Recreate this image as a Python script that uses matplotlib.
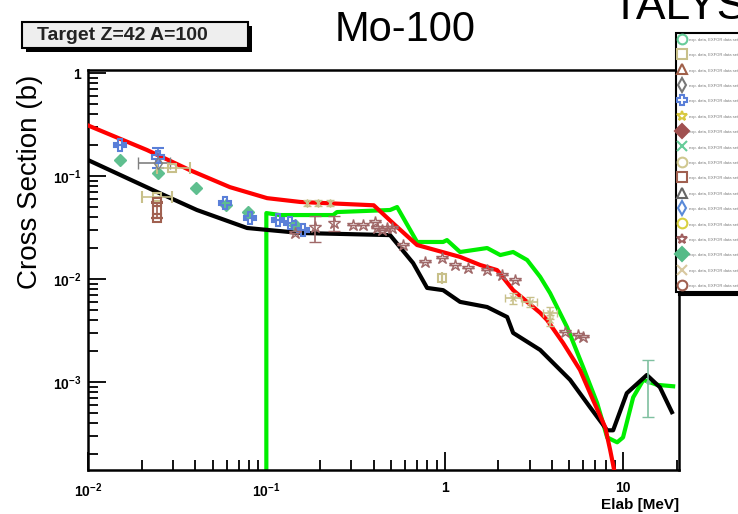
import numpy as np
import matplotlib.pyplot as plt
from matplotlib import patheffects as pe
from matplotlib.patches import Rectangle
from matplotlib.lines import Line2D

plt.rcParams['font.family'] = ['Liberation Sans', 'DejaVu Sans']
plt.rcParams['mathtext.fontset'] = 'custom'
plt.rcParams['mathtext.rm'] = 'Liberation Sans:bold'
plt.rcParams['mathtext.bf'] = 'Liberation Sans:bold'
plt.rcParams['mathtext.default'] = 'rm'

# evaluated curves (E in MeV, sigma in b)
red_x = [0.01, 0.0214, 0.0373, 0.0625, 0.101, 0.155, 0.40, 0.527, 0.70, 1.22, 1.58, 1.97, 2.42,
         3.43, 3.75, 4.61, 5.74, 6.79, 7.94, 8.47, 9.15]
red_y = [0.31, 0.179, 0.114, 0.078, 0.061, 0.056, 0.052, 0.0334, 0.0214, 0.0164, 0.0137, 0.0122,
         0.0078, 0.0047, 0.0040, 0.0024, 0.00131, 0.00067, 0.000365, 0.000219, 0.000112]

black_x = [0.01, 0.0244, 0.0408, 0.078, 0.101, 0.155, 0.494, 0.665, 0.797, 0.98, 1.22, 1.73, 2.24,
           2.42, 3.43, 5.05, 6.53, 8.15, 8.8, 10.5, 13.6, 16.1, 18.8]
black_y = [0.143, 0.070, 0.0468, 0.0313, 0.030, 0.028, 0.0267, 0.0143, 0.0082, 0.0078, 0.0060,
           0.00535, 0.00428, 0.0030, 0.00205, 0.00105, 0.00057, 0.00034, 0.00034, 0.00078,
           0.00117, 0.00089, 0.00051]

green_x = [0.1, 0.1, 0.119, 0.237, 0.249, 0.494, 0.541, 0.70, 0.98, 1.03, 1.22, 1.73, 2.05, 2.42,
           2.90, 3.43, 3.90, 4.86, 5.97, 7.16, 8.15, 9.27, 10.0, 11.4, 13.0, 15.5, 19.1]
green_y = [1e-6, 0.0437, 0.0418, 0.0418, 0.0447, 0.0468, 0.050, 0.0229, 0.0229, 0.0239, 0.0183,
           0.020, 0.0171, 0.0183, 0.0153, 0.0105, 0.0073, 0.0034, 0.0014, 0.000625, 0.00029,
           0.00026, 0.00029, 0.00071, 0.00105, 0.00094, 0.00091]

# experimental points
blue_x = [0.0151, 0.0247, 0.0586, 0.081, 0.116, 0.136, 0.161]
blue_y = [0.200, 0.153, 0.0547, 0.0391, 0.0374, 0.035, 0.030]
blue_err = [0.0, 0.033, 0.0, 0.0, 0.0, 0.0, 0.0]

gdia_x = [0.0151, 0.0247, 0.0404, 0.0594, 0.0789, 0.145]
gdia_y = [0.143, 0.107, 0.0764, 0.0523, 0.0447, 0.0334]

teal_x = [13.8]
teal_y = [0.0010]
teal_lo = [0.00054]
teal_hi = [0.00064]

gray_x = [0.0247]
gray_y = [0.134]
gray_xlo = [0.0056]
gray_xhi = [0.0041]

tsq_x = [0.0296, 0.0244, 0.966]
tsq_y = [0.120, 0.0625, 0.0102]
tsq_xlo = [0.0052, 0.0043, 0.0]
tsq_xhi = [0.0077, 0.0052, 0.0]

bsq_x = [0.0244, 0.0244, 0.0244]
bsq_y = [0.056, 0.0468, 0.039]
bsq_err = [0.0, 0.008, 0.0]

tan_x = [0.17, 0.195, 0.228, 2.42, 3.01, 3.90, 3.90]
tan_y = [0.0547, 0.0547, 0.0547, 0.00654, 0.0060, 0.0047, 0.0040]
tan_xerr = [0.0, 0.0, 0.0, 0.25, 0.3, 0.35, 0.0]
tan_yerr = [0.004, 0.004, 0.004, 0.0008, 0.0007, 0.0006, 0.0005]

star_x = [0.145, 0.1875, 0.24, 0.306, 0.348, 0.407, 0.418, 0.446, 0.475, 0.507, 0.585, 0.776,
          0.966, 1.14, 1.35, 1.73, 2.10, 2.48, 4.73, 5.60, 5.97]
star_y = [0.028, 0.032, 0.035, 0.0334, 0.0334, 0.0357, 0.0313, 0.030, 0.0313, 0.0313, 0.0214,
          0.0146, 0.016, 0.0137, 0.0128, 0.0122, 0.0109, 0.0098, 0.00306, 0.00286, 0.00273]
star_err = [0.0, 0.009, 0.006, 0, 0, 0, 0, 0, 0, 0, 0, 0, 0, 0, 0, 0, 0, 0, 0, 0, 0]

leg_labels = ["exp. data, EXFOR data set %d (n,g)" % (i + 1) for i in range(17)]
leg_markers = ['o', 's', '^', 'd', 'P', '*', 'D', 'x', 'o', 's', '^', 'd', 'o', '*', 'D', 'x', 'o']
leg_colors = ['#66cc99', '#c8c08a', '#a0604a', '#777777', '#5a7fd8', '#d8c840', '#a05050',
              '#66cc99', '#d0c890', '#a06050', '#666666', '#5a8ad8', '#d8d040', '#a06060',
              '#55bb88', '#d8c8a0', '#a06050']
leg_filled = [False, False, False, False, False, False, True, False, False, False, False,
              False, False, False, True, False, False]

fig = plt.figure(figsize=(7.38, 5.14), dpi=100)
ax = fig.add_axes([88 / 738, 1 - 470 / 514, 591 / 738, 400 / 514])
ax.set_xscale('log')
ax.set_yscale('log')

ax.plot(red_x, red_y, color='#ff0000', lw=3, zorder=3)
ax.plot(green_x, green_y, color='#00ee00', lw=3, zorder=2)
ax.plot(black_x, black_y, color='black', lw=3, zorder=2)

ax.errorbar(blue_x, blue_y, yerr=blue_err, fmt='P', ms=8, mfc='none', mec='#5a7fd8', mew=1.5,
            ecolor='#5a7fd8', capsize=4, elinewidth=1.2, zorder=4)
ax.plot(gdia_x, gdia_y, 'D', ms=6, color='#5fbf8f', zorder=4)
ax.errorbar(teal_x, teal_y, yerr=[teal_lo, teal_hi], fmt='D', ms=2, color='#7fc0a0',
            capsize=4, elinewidth=1.2, zorder=4)
ax.errorbar(gray_x, gray_y, xerr=[gray_xlo, gray_xhi], fmt='d', ms=6, mfc='none', mec='#808080',
            ecolor='#808080', capsize=4, elinewidth=1.2, zorder=4)
ax.errorbar(tsq_x, tsq_y, xerr=[tsq_xlo, tsq_xhi], fmt='s', ms=6, mfc='none', mec='#c8c08a',
            mew=1.5, ecolor='#c8c08a', capsize=4, elinewidth=1.2, zorder=4)
ax.errorbar(bsq_x, bsq_y, yerr=bsq_err, fmt='s', ms=6, mfc='none', mec='#a06050', mew=1.5,
            ecolor='#a06050', capsize=4, elinewidth=1.2, zorder=4)
ax.errorbar(tan_x, tan_y, xerr=tan_xerr, yerr=tan_yerr, fmt='x', ms=5, color='#c8c08a',
            capsize=3, elinewidth=1.2, zorder=4)
ax.errorbar(star_x, star_y, yerr=star_err, fmt='*', ms=9, mfc='none', mec='#a06868', mew=1.0,
            ecolor='#a06868', capsize=4, elinewidth=1.2, zorder=4)

ax.set_xlim(0.01, 20.6)
ax.set_ylim(1.4e-4, 1.07)

ax.set_xticks([0.01, 0.1, 1, 10])
ax.set_xticklabels(['$10^{-2}$', '$10^{-1}$', '1', '10'], fontsize=10, fontweight='bold')
ax.set_yticks([1e-3, 1e-2, 1e-1, 1])
ax.set_yticklabels(['$10^{-3}$', '$10^{-2}$', '$10^{-1}$', '1'], fontsize=10, fontweight='bold')
ax.tick_params(which='both', direction='in', top=False, right=False, width=1.3)
ax.tick_params(which='major', length=13)
ax.tick_params(which='minor', length=7)
ax.tick_params(axis='x', which='major', pad=8)
ax.tick_params(axis='y', which='major', pad=5)
for s in ax.spines.values():
    s.set_linewidth(1.8)

ax.set_xlabel('Elab [MeV]', fontsize=11, fontweight='bold', ha='right', va='center')
ax.xaxis.set_label_coords(1.0, -0.088)
ax.set_ylabel('Cross Section (b)', fontsize=20, ha='center', va='center')
ax.yaxis.set_label_coords(-0.098, 0.72)

fig.text(405 / 738, 1 - 30 / 514, 'Mo-100', ha='center', va='center', fontsize=30)
fig.text(612 / 738, 1 - 19 / 514, 'TALYS', ha='left', va='baseline', fontsize=32)

box = Rectangle((22 / 738, 1 - 48 / 514), 226 / 738, 26 / 514, transform=fig.transFigure,
                facecolor='#eeeeee', edgecolor='black', lw=1.5)
box.set_path_effects([pe.SimplePatchShadow(offset=(3, -3), shadow_rgbFace='black', alpha=1),
                      pe.Normal()])
fig.add_artist(box)
fig.text(37 / 738, 1 - 35 / 514, 'Target Z=42 A=100', ha='left', va='center',
         fontsize=14, fontweight='bold', color='#222222')

handles = []
for m, c, f in zip(leg_markers, leg_colors, leg_filled):
    handles.append(Line2D([], [], ls='none', marker=m, ms=7, mec=c,
                          mfc=c if f else 'none', mew=1.5))
leg = fig.legend(handles, leg_labels, loc='upper left', bbox_to_anchor=(676 / 738, 1 - 33 / 514),
                 fontsize=3, labelspacing=2.15, handlelength=1.5, handleheight=2,
                 handletextpad=0.8, borderpad=0.8, borderaxespad=0, frameon=True,
                 fancybox=False, labelcolor='#777777',
                 shadow={'color': 'black', 'alpha': 1})
leg.get_frame().set_edgecolor('black')
leg.get_frame().set_linewidth(1.5)

fig.savefig('out.png', dpi=100)
